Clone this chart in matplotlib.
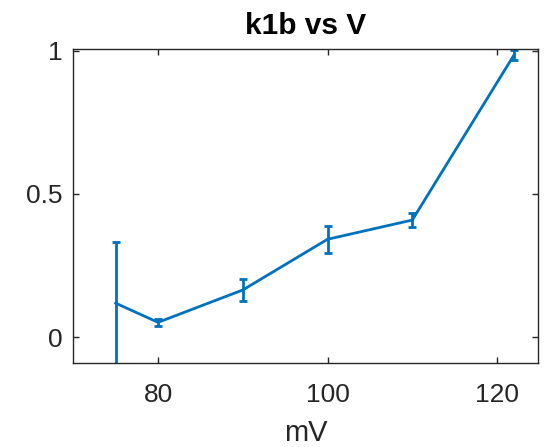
import matplotlib
matplotlib.use("Agg")
import matplotlib.pyplot as plt

# Voltage steps (mV) and fitted k1b with its uncertainty
voltage = [75, 80, 90, 100, 110, 122]
k1b = [0.119, 0.052, 0.165, 0.342, 0.409, 0.985]
k1b_err = [0.215, 0.012, 0.038, 0.047, 0.025, 0.019]

x_ticks = [80, 100, 120]
y_ticks = [0, 0.5, 1]
y_tick_labels = ["0", "0.5", "1"]

plt.rcParams["font.family"] = ["Liberation Sans", "DejaVu Sans"]

fig = plt.figure(figsize=(5.45, 4.47), dpi=100)
ax = fig.add_axes([0.1345, 0.1872, 0.8521, 0.7025])

blue = "#0072BD"
ax.errorbar(voltage, k1b, yerr=k1b_err, color=blue, linewidth=2.0,
            elinewidth=2.0, capsize=3.0, capthick=2.0)

ax.set_xlim(70, 124.8)
ax.set_ylim(-0.091, 1.005)
ax.set_xticks(x_ticks)
ax.set_yticks(y_ticks)
ax.set_yticklabels(y_tick_labels)

edge = "#262626"
for sp in ax.spines.values():
    sp.set_color(edge)
    sp.set_linewidth(1.0)

ax.tick_params(direction="in", length=4, width=1.0, color=edge,
               top=True, right=True, labelsize=19, labelcolor=edge)
ax.tick_params(axis="x", pad=14)
ax.tick_params(axis="y", pad=8)

ax.set_xlabel("mV", fontsize=21, color=edge, labelpad=9)
ax.set_title("k1b vs V", fontsize=21.5, fontweight="bold", color="black", pad=11)

fig.savefig("out.png", dpi=100)
